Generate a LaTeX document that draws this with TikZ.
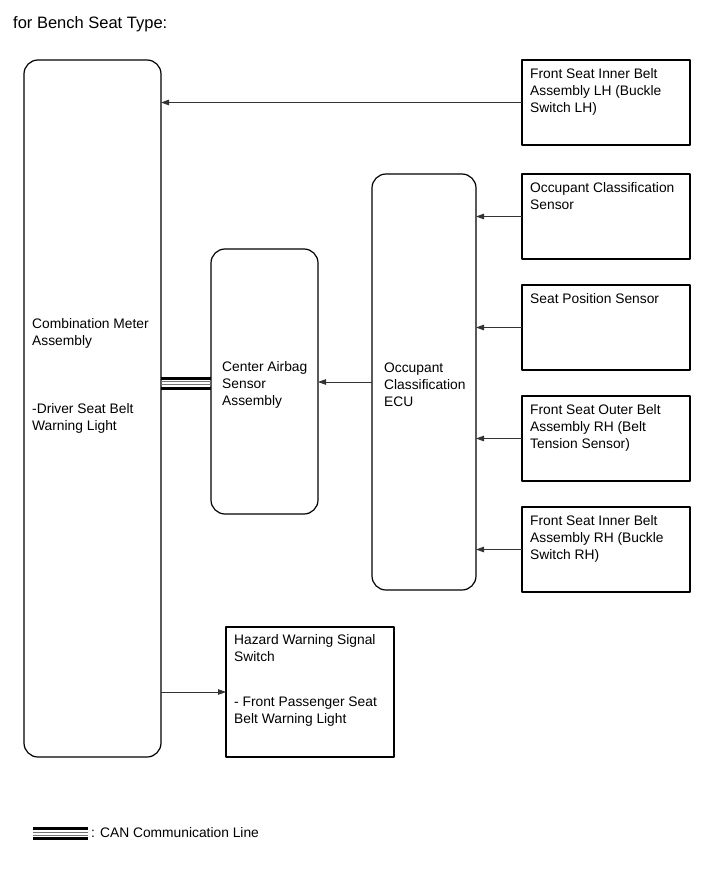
\documentclass[tikz,border=0pt]{standalone}
\usepackage{fontspec}
\setmainfont{Liberation Sans}
\usepackage{tikz}
\usetikzlibrary{arrows.meta}
\tikzset{
  every picture/.style={line join=round, >={Triangle[length=8pt,width=5.5pt]}},
  box/.style={draw, line width=1.2pt, inner sep=0pt, outer sep=0pt},
  rbox/.style={box, rounded corners=14pt},
  txt/.style={anchor=north west, inner sep=0pt, align=left, font=\fontsize{13.8}{17}\selectfont},
  arr/.style={->, line width=0.8pt, draw=black!80},
  canblk/.style={line width=3pt},
  cangry/.style={line width=0.9pt, draw=black!55},
}
\begin{document}
\begin{tikzpicture}[x=1pt,y=-1pt]
\useasboundingbox (0,0) rectangle (713,882);
% title
\node[txt, font=\fontsize{16.5}{20}\selectfont] (title) at (13,16) {for Bench Seat Type:};
% left column
\node[rbox, minimum width=137pt, minimum height=697pt] (meter) at (92.5,408.5) {};
\node[txt] (meterTxt) at ([shift={(8,258)}]meter.north west) {Combination Meter\\Assembly\\[51pt]-Driver Seat Belt\\Warning Light};
\node[rbox, minimum width=107pt, minimum height=265pt] (airbag) at (264.5,381.5) {};
\node[txt] (airbagTxt) at ([shift={(11,112)}]airbag.north west) {Center Airbag\\Sensor\\Assembly};
\node[rbox, minimum width=104pt, minimum height=416pt] (ecu) at (424,382) {};
\node[txt] (ecuTxt) at ([shift={(12,189)}]ecu.north west) {Occupant\\Classification\\ECU};
\node[box, minimum width=168pt, minimum height=130pt] (hazard) at (310,692) {};
\node[txt] (hazardTxt) at ([shift={(8,7)}]hazard.north west) {Hazard Warning Signal\\Switch\\[28pt]- Front Passenger Seat\\Belt Warning Light};
% right column
\node[box, minimum width=168pt, minimum height=85pt] (lhbelt) at (606,102.5) {};
\node[txt] (lhbeltTxt) at ([shift={(8,8)}]lhbelt.north west) {Front Seat Inner Belt\\Assembly LH (Buckle\\Switch LH)};
\node[box, minimum width=168pt, minimum height=85pt] (ocsens) at (606,216.5) {};
\node[txt] (ocsensTxt) at ([shift={(8,8)}]ocsens.north west) {Occupant Classification\\Sensor};
\node[box, minimum width=168pt, minimum height=85pt] (seatpos) at (606,327.5) {};
\node[txt] (seatposTxt) at ([shift={(8,8)}]seatpos.north west) {Seat Position Sensor};
\node[box, minimum width=168pt, minimum height=85pt] (outerrh) at (606,438.5) {};
\node[txt] (outerrhTxt) at ([shift={(8,8)}]outerrh.north west) {Front Seat Outer Belt\\Assembly RH (Belt\\Tension Sensor)};
\node[box, minimum width=168pt, minimum height=85pt] (innerrh) at (606,549.5) {};
\node[txt] (innerrhTxt) at ([shift={(8,8)}]innerrh.north west) {Front Seat Inner Belt\\Assembly RH (Buckle\\Switch RH)};
% signals
\draw[arr] (lhbelt.west) -- (lhbelt.west -| meter.east);
\foreach \n in {ocsens,seatpos,outerrh,innerrh}
  \draw[arr] (\n.west) -- (\n.west -| ecu.east);
\draw[arr] (ecu.west) -- (ecu.west -| airbag.east);
\draw[arr] (hazard.west -| meter.east) -- (hazard.west);
% CAN
\foreach \s/\c in {3.5/canblk,-0.3/cangry,-3.3/cangry,-7.1/canblk}
  \draw[\c] ([yshift=\s pt]airbag.west -| meter.east) -- ([yshift=\s pt]airbag.west);
% legend
\coordinate (legA) at (33,833.5);
\coordinate (legB) at (88,833.5);
\foreach \s/\c in {5.3/canblk,1.5/cangry,-1.5/cangry,-5.3/canblk}
  \draw[\c] ([yshift=\s pt]legA) -- ([yshift=\s pt]legB);
\node[txt, anchor=west] (legTxt) at (91,833) {: CAN Communication Line};
\end{tikzpicture}
\end{document}
